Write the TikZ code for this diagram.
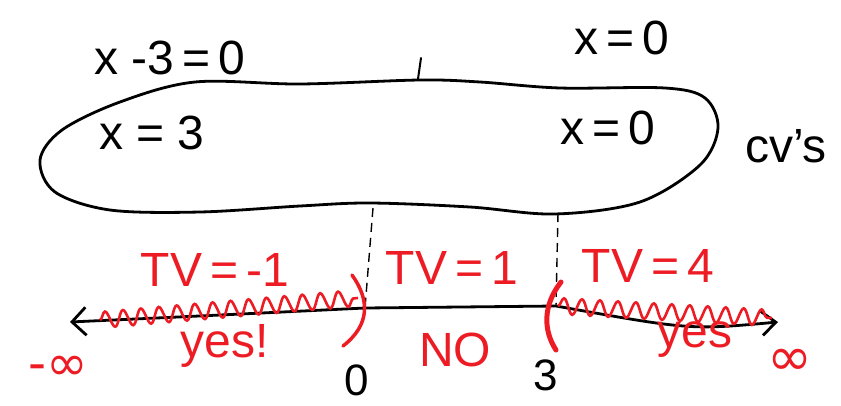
\documentclass[tikz,border=0pt]{standalone}
\usepackage{fontspec}
\setmainfont{Liberation Sans}
\newfontfamily\symfont{DejaVu Sans}
\usetikzlibrary{arrows.meta,decorations.pathmorphing}
\definecolor{pen}{RGB}{237,28,36}
\begin{document}
\begin{tikzpicture}[x=1pt,y=-1pt,
  ink/.style={line width=2.8pt,line cap=round,line join=round},
  redtxt/.style={text=pen,font=\fontsize{48}{48}\selectfont,inner sep=0pt},
  blktxt/.style={text=black,font=\fontsize{48}{48}\selectfont,inner sep=0pt},
  wave/.style={pen,line width=2.6pt,decorate,decoration={snake,segment length=18pt,amplitude=8pt}},
  dashline/.style={line width=1.4pt,dash pattern=on 9pt off 6pt}]
\useasboundingbox (0,0) rectangle (841,405);
% blob
\draw[ink] plot[smooth cycle,tension=0.55] coordinates {
 (195,82) (120,102) (62,130) (40,160) (55,192) (110,210) (200,212)
 (300,206) (370,203) (470,207) (555,214) (640,202) (700,165) (718,128) (705,98)
 (665,88) (560,88) (480,82) (420,80) (300,84)};
\coordinate (tk1) at (421,58);
\coordinate (tk2) at (418,79);
\draw[ink,line width=2pt] (tk1) -- (tk2);
% texts in blob
\node[blktxt] (e1) at (170,58) {x -3\,=\,0};
\node[blktxt] (e2) at (622,38) {x\,=\,0};
\node[blktxt] (in1) at (152,133) {x = 3};
\node[blktxt] (in2) at (608,128) {x\,=\,0};
\node[blktxt] (cv) at (786,146) {cv's};
% number line
\coordinate (L) at (70,322);
\coordinate (R) at (778,322);
\coordinate (z0) at (365,308);
\coordinate (z3) at (556,306);
\draw[ink,{Straight Barb[length=14pt,width=28pt]}-{Straight Barb[length=14pt,width=24pt]}]
  (L) .. controls (200,316) .. (z0) -- (z3) .. controls (690,330) .. (R);
% dashed lines
\coordinate (d1) at (373,208);
\coordinate (d2) at (558,213);
\draw[dashline] (d1) -- (z0);
\draw[dashline] (d2) -- (z3);
% waves
\draw[wave] (100,320) -- (358,298);
\draw[wave] (558,306) -- (772,318);
% parens
\draw[pen,line width=3.5pt,line cap=round] (352,275) .. controls (370,300) and (370,325) .. (343,346);
\draw[pen,line width=5pt,line cap=round] (561,282) .. controls (543,305) and (543,330) .. (556,350);
% red labels
\node[redtxt] (tv1) at (215,270) {TV\,=\,-1};
\node[redtxt] (tv2) at (452,268) {TV\,=\,1};
\node[redtxt] (tv3) at (648,266) {TV\,=\,4};
\node[redtxt] (y1) at (225,346) {yes!};
\node[redtxt] (no) at (455,350) {NO};
\node[redtxt] (y2) at (695,340) {yes};
\node[redtxt,font=\symfont\fontsize{50}{50}\selectfont] (mi) at (58,368) {-∞};
\node[redtxt,font=\symfont\fontsize{54}{54}\selectfont] (pi) at (790,362) {∞};
% black numbers
\node[blktxt,font=\fontsize{44}{44}\selectfont] (n0) at (357,380) {0};
\node[blktxt,font=\fontsize{44}{44}\selectfont] (n3) at (546,375) {3};
\end{tikzpicture}
\end{document}
